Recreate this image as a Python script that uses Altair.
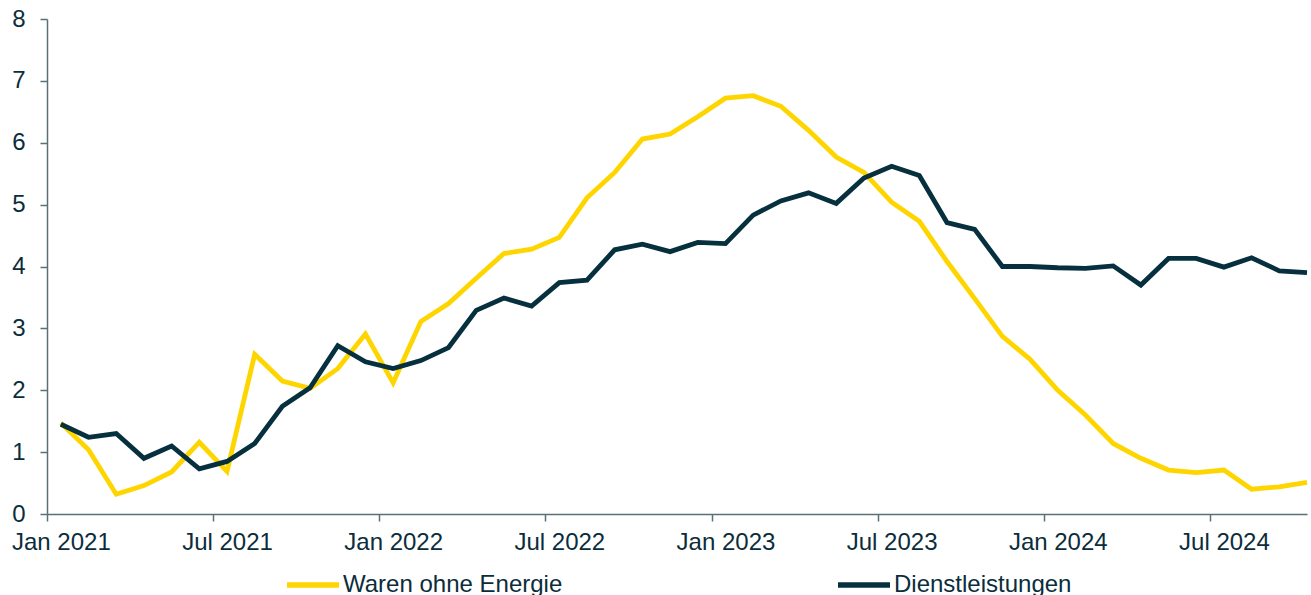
import altair as alt
import pandas as pd

months = [f"{y}-{m:02d}" for y in (2021, 2022, 2023, 2024) for m in range(1, 13)][:46]

series_names = ["Waren ohne Energie", "Dienstleistungen"]

waren = [1.47, 1.04, 0.32, 0.46, 0.68, 1.16, 0.69, 2.58, 2.15, 2.03,
         2.35, 2.91, 2.12, 3.11, 3.40, 3.81, 4.21, 4.28, 4.47, 5.11,
         5.52, 6.06, 6.14, 6.42, 6.72, 6.76, 6.59, 6.20, 5.77, 5.52,
         5.04, 4.73, 4.08, 3.48, 2.87, 2.50, 2.00, 1.60, 1.14, 0.90,
         0.71, 0.67, 0.71, 0.40, 0.44, 0.51]

dienst = [1.45, 1.24, 1.30, 0.90, 1.10, 0.73, 0.85, 1.14, 1.74, 2.04,
          2.72, 2.46, 2.35, 2.48, 2.69, 3.29, 3.49, 3.36, 3.74, 3.78,
          4.27, 4.36, 4.24, 4.39, 4.37, 4.83, 5.06, 5.19, 5.02, 5.43,
          5.62, 5.47, 4.71, 4.60, 4.00, 4.00, 3.98, 3.97, 4.01, 3.70,
          4.13, 4.13, 3.99, 4.14, 3.93, 3.90]

x_tick_values = [-0.5, 5.5, 11.5, 17.5, 23.5, 29.5, 35.5, 41.5]
x_label_values = [0, 6, 12, 18, 24, 30, 36, 42]
y_tick_values = [0, 1, 2, 3, 4, 5, 6, 7, 8]

colors = ["#FFD500", "#06303E"]
text_color = "#0B2D3B"
axis_color = "#5A7079"
FONT = "Liberation Sans"
FS = 24

rows = []
for name, vals in zip(series_names, [waren, dienst]):
    for i, (m, v) in enumerate(zip(months, vals)):
        rows.append({"idx": i, "month": m, "value": v, "series": name})
df = pd.DataFrame(rows)

label_expr = ("(datum.value % 12 == 0 ? 'Jan ' : 'Jul ') + "
              "(2021 + floor(datum.value / 12))")

x_scale = alt.Scale(domain=[-0.5, 45], nice=False, zero=False)
y_scale = alt.Scale(domain=[0, 8], nice=False, zero=True)

y_axis = alt.Axis(values=y_tick_values, title=None, grid=False,
                  domainColor=axis_color, domainWidth=1.5,
                  tickColor=axis_color, tickSize=7, tickWidth=1.5,
                  labelPadding=15, labelFontSize=FS, labelFont=FONT,
                  labelColor=text_color, format="d")

lines = alt.Chart(df).mark_line(strokeWidth=4.8, strokeJoin="miter", strokeCap="butt").encode(
    x=alt.X("idx:Q", scale=x_scale,
            axis=alt.Axis(values=x_tick_values, labels=False, title=None, orient="bottom",
                          grid=False, domainColor=axis_color, domainWidth=1.5,
                          tickColor=axis_color, tickSize=7, tickWidth=1.5)),
    y=alt.Y("value:Q", scale=y_scale, axis=y_axis),
    color=alt.Color("series:N",
                    scale=alt.Scale(domain=series_names, range=colors),
                    legend=alt.Legend(orient="none", legendX=237, legendY=537,
                                      direction="horizontal", title=None,
                                      symbolType="stroke", symbolSize=2704,
                                      symbolStrokeWidth=5.5, labelFontSize=FS,
                                      labelFont=FONT, labelColor=text_color,
                                      columnPadding=264, labelOffset=1,
                                      padding=0, labelLimit=500)),
    order=alt.Order("series:N", sort="descending"),
)

labels_layer = alt.Chart(df).mark_point(opacity=0).encode(
    x=alt.X("idx:Q", scale=x_scale,
            axis=alt.Axis(values=x_label_values, labelExpr=label_expr, title=None,
                          orient="bottom", grid=False, domain=False, ticks=False,
                          tickSize=0, labelPadding=16, labelFontSize=FS,
                          labelFont=FONT, labelColor=text_color,
                          labelFlush=False, labelOverlap=False)),
    y=alt.Y("value:Q", scale=y_scale, axis=y_axis),
)

chart = alt.layer(lines, labels_layer).resolve_axis(x="independent").properties(
    width=1260,
    height=495,
    autosize="none",
    background="white",
    padding={"left": 47, "top": 19, "right": 4, "bottom": 81},
).configure_view(stroke=None)

chart.save("out.html", embed_options={"renderer": "svg", "actions": False})
